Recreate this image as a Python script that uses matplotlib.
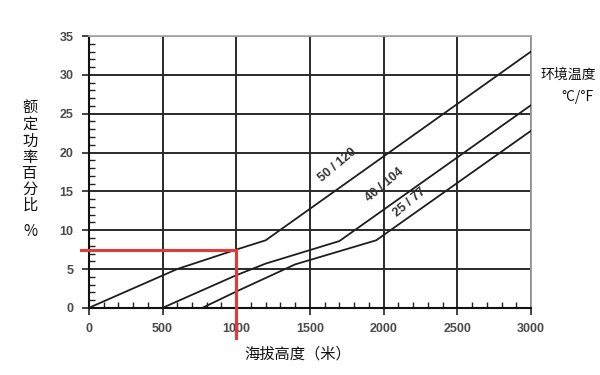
import matplotlib
matplotlib.use("Agg")
import matplotlib.pyplot as plt
import numpy as np
from matplotlib.ticker import MultipleLocator

plt.rcParams['font.family'] = ['Noto Sans CJK SC', 'DejaVu Sans']

# Data
alt_50 = [0, 600, 1000, 1200, 3000]
pct_50 = [0, 5.0, 7.5, 8.7, 33.0]
alt_40 = [500, 1000, 1200, 1700, 3000]
pct_40 = [0, 4.2, 5.7, 8.6, 26.1]
alt_25 = [770, 1000, 1400, 1950, 3000]
pct_25 = [0, 2.1, 5.6, 8.7, 22.8]
curve_labels = ["50 / 120", "40 / 104", "25 / 77"]
label_pos = [(1684, 18.4), (2010, 15.8), (2179, 13.6)]
ref_alt = 1000
ref_pct = 7.5
xticks = [0, 500, 1000, 1500, 2000, 2500, 3000]
yticks = [0, 5, 10, 15, 20, 25, 30, 35]

fig = plt.figure(figsize=(6, 3.75), dpi=100)
ax = fig.add_axes([0.148, 0.179, 0.737, 0.725])
ax.set_xlim(0, 3000)
ax.set_ylim(0, 35)

ax.set_xticks(xticks)
ax.set_yticks(yticks)
ax.xaxis.set_minor_locator(MultipleLocator(100))
ax.yaxis.set_minor_locator(MultipleLocator(1))
ax.grid(True, which='major', color='#2a2a2a', linewidth=1.4)
ax.set_axisbelow(True)
ax.tick_params(which='major', direction='out', length=5, width=1.2, color='#222',
               labelsize=9, labelcolor='#4a4a4a', pad=6)
ax.tick_params(which='minor', direction='in', length=4, width=1.0, color='#222')
for lab in ax.get_xticklabels() + ax.get_yticklabels():
    lab.set_fontweight('bold')
    lab.set_family(['Liberation Sans', 'DejaVu Sans'])

ax.spines['left'].set_color('#111')
ax.spines['left'].set_linewidth(1.5)
ax.spines['bottom'].set_color('#111')
ax.spines['bottom'].set_linewidth(1.5)
ax.spines['top'].set_color('#aaaaaa')
ax.spines['right'].set_color('#999999')
ax.spines['top'].set_linewidth(1.3)
ax.spines['right'].set_linewidth(1.3)

for xs, ys in [(alt_50, pct_50), (alt_40, pct_40), (alt_25, pct_25)]:
    ax.plot(xs, ys, color='#1e1e1e', linewidth=1.3, zorder=3)

for txt, (lx, ly) in zip(curve_labels, label_pos):
    ax.text(lx, ly, txt, rotation=40, ha='center', va='center', fontsize=9,
            fontweight='bold', color='#333', family=['Liberation Sans', 'DejaVu Sans'],
            zorder=4)

# red reference lines
ax.plot([-55, ref_alt], [ref_pct, ref_pct], color='#e03a3a', linewidth=2.2,
        clip_on=False, zorder=5)
ax.plot([ref_alt, ref_alt], [ref_pct, -3.9], color='#e03a3a', linewidth=2.2,
        clip_on=False, zorder=5)

# labels
ylab = "额定功率百分比"
fig.text(30 / 600, 1 - 157 / 375, "\n".join(ylab), ha='center', va='center',
         fontsize=11, color='#111', linespacing=0.93)
fig.text(30 / 600, 1 - 232 / 375, "%", ha='center', va='center', fontsize=11,
         color='#111')
fig.text(568 / 600, 1 - 75 / 375, "环境温度", ha='center', va='center', fontsize=10,
         color='#111')
fig.text(577 / 600, 1 - 97 / 375, "°C/°F", ha='center', va='center', fontsize=10,
         color='#111')
fig.text(298 / 600, 1 - 354 / 375, "海拔高度（米）", ha='center', va='center',
         fontsize=11, color='#111')

fig.savefig("out.png", dpi=100)
